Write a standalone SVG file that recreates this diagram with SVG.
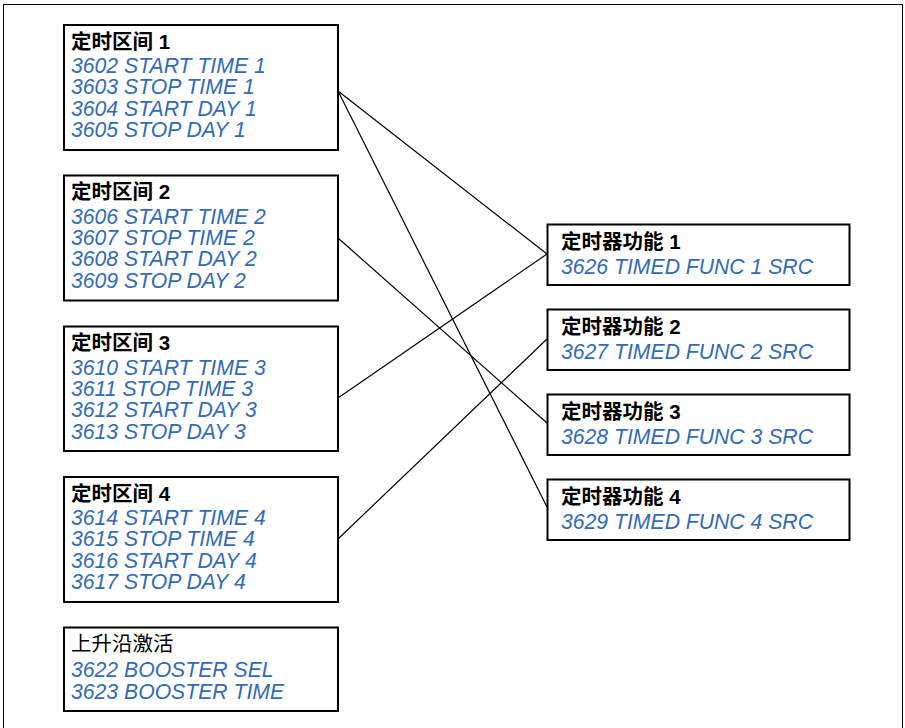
<svg xmlns="http://www.w3.org/2000/svg" width="905" height="728" viewBox="0 0 905 728">
<style>
.box{fill:#fff;stroke:#000;stroke-width:2}
.t{font-family:"Liberation Sans","Noto Sans CJK SC",Arial,sans-serif;font-size:20.5px;font-weight:bold;fill:#000}
.tr{font-family:"Liberation Sans","Noto Sans CJK SC",Arial,sans-serif;font-size:20.5px;fill:#000}
.p{font-family:"Liberation Sans",Arial,sans-serif;font-size:21.2px;font-style:italic;fill:#316ab9}
.c{stroke:#000;stroke-width:1.2;fill:none}
</style>
<rect x="3.5" y="4.5" width="899" height="730" fill="#fff" stroke="#000" stroke-width="1"/>
<g id="connectors">
<line class="c" x1="338" y1="91" x2="547" y2="254"/>
<line class="c" x1="338" y1="91" x2="547" y2="507"/>
<line class="c" x1="338" y1="238" x2="547" y2="423"/>
<line class="c" x1="338" y1="398" x2="547" y2="254"/>
<line class="c" x1="338" y1="539" x2="547" y2="339"/>
</g>
<g id="interval1">
<rect class="box" x="64" y="25" width="274" height="125"/>
<text class="t" x="71" y="48.5">定时区间 1</text>
<text class="p" x="71" y="73">3602 START TIME 1</text>
<text class="p" x="71" y="94.3">3603 STOP TIME 1</text>
<text class="p" x="71" y="115.6">3604 START DAY 1</text>
<text class="p" x="71" y="137">3605 STOP DAY 1</text>
</g>
<g id="interval2">
<rect class="box" x="64" y="175.5" width="274" height="125"/>
<text class="t" x="71" y="199">定时区间 2</text>
<text class="p" x="71" y="223.5">3606 START TIME 2</text>
<text class="p" x="71" y="244.8">3607 STOP TIME 2</text>
<text class="p" x="71" y="266.1">3608 START DAY 2</text>
<text class="p" x="71" y="287.5">3609 STOP DAY 2</text>
</g>
<g id="interval3">
<rect class="box" x="64" y="326.5" width="274" height="124.5"/>
<text class="t" x="71" y="350">定时区间 3</text>
<text class="p" x="71" y="374.5">3610 START TIME 3</text>
<text class="p" x="71" y="395.8">3611 STOP TIME 3</text>
<text class="p" x="71" y="417.1">3612 START DAY 3</text>
<text class="p" x="71" y="438.5">3613 STOP DAY 3</text>
</g>
<g id="interval4">
<rect class="box" x="64" y="477" width="274" height="125"/>
<text class="t" x="71" y="500.5">定时区间 4</text>
<text class="p" x="71" y="525">3614 START TIME 4</text>
<text class="p" x="71" y="546.3">3615 STOP TIME 4</text>
<text class="p" x="71" y="567.6">3616 START DAY 4</text>
<text class="p" x="71" y="589">3617 STOP DAY 4</text>
</g>
<g id="booster">
<rect class="box" x="64" y="627.5" width="274" height="83.5"/>
<text class="tr" x="71" y="651">上升沿激活</text>
<text class="p" x="71" y="677">3622 BOOSTER SEL</text>
<text class="p" x="71" y="698.5">3623 BOOSTER TIME</text>
</g>
<g id="func1">
<rect class="box" x="547.5" y="224.5" width="302" height="60.5"/>
<text class="t" x="561" y="248.5">定时器功能 1</text>
<text class="p" x="561" y="273.5">3626 TIMED FUNC 1 SRC</text>
</g>
<g id="func2">
<rect class="box" x="547.5" y="309.5" width="302" height="60.5"/>
<text class="t" x="561" y="333.5">定时器功能 2</text>
<text class="p" x="561" y="358.5">3627 TIMED FUNC 2 SRC</text>
</g>
<g id="func3">
<rect class="box" x="547.5" y="394.5" width="302" height="60.5"/>
<text class="t" x="561" y="418.5">定时器功能 3</text>
<text class="p" x="561" y="443.5">3628 TIMED FUNC 3 SRC</text>
</g>
<g id="func4">
<rect class="box" x="547.5" y="479.5" width="302" height="60.5"/>
<text class="t" x="561" y="503.5">定时器功能 4</text>
<text class="p" x="561" y="528.5">3629 TIMED FUNC 4 SRC</text>
</g>
</svg>
